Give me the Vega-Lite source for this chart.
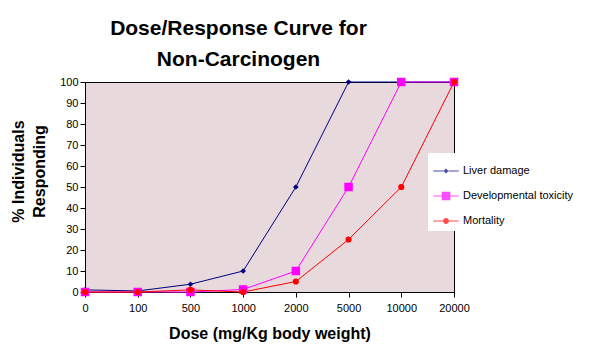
{
  "$schema": "https://vega.github.io/schema/vega-lite/v6.json",
  "width": 369,
  "height": 210,
  "autosize": {"type": "none"},
  "padding": {"left": 85, "top": 82, "right": 142, "bottom": 64},
  "background": "white",
  "config": {
    "view": {"fill": "#E8D9DD", "stroke": "black", "strokeWidth": 1},
    "font": "Liberation Sans"
  },
  "title": {
    "text": ["Dose/Response Curve for", "Non-Carcinogen"],
    "fontSize": 21,
    "fontWeight": "bold",
    "font": "Liberation Sans",
    "color": "black",
    "lineHeight": 31,
    "anchor": "middle",
    "frame": "group",
    "dx": -31,
    "offset": 6
  },
  "data": {
    "values": [
      {"series": "Liver damage", "dose": "0", "pct": 1},
      {"series": "Liver damage", "dose": "100", "pct": 0.5},
      {"series": "Liver damage", "dose": "500", "pct": 3.7},
      {"series": "Liver damage", "dose": "1000", "pct": 10},
      {"series": "Liver damage", "dose": "2000", "pct": 50},
      {"series": "Liver damage", "dose": "5000", "pct": 100},
      {"series": "Liver damage", "dose": "10000", "pct": 100},
      {"series": "Liver damage", "dose": "20000", "pct": 100},
      {"series": "Developmental toxicity", "dose": "0", "pct": 0},
      {"series": "Developmental toxicity", "dose": "100", "pct": 0},
      {"series": "Developmental toxicity", "dose": "500", "pct": 0},
      {"series": "Developmental toxicity", "dose": "1000", "pct": 1.2},
      {"series": "Developmental toxicity", "dose": "2000", "pct": 10},
      {"series": "Developmental toxicity", "dose": "5000", "pct": 50},
      {"series": "Developmental toxicity", "dose": "10000", "pct": 100},
      {"series": "Developmental toxicity", "dose": "20000", "pct": 100},
      {"series": "Mortality", "dose": "0", "pct": 0},
      {"series": "Mortality", "dose": "100", "pct": 0},
      {"series": "Mortality", "dose": "500", "pct": 1},
      {"series": "Mortality", "dose": "1000", "pct": 0},
      {"series": "Mortality", "dose": "2000", "pct": 5},
      {"series": "Mortality", "dose": "5000", "pct": 25},
      {"series": "Mortality", "dose": "10000", "pct": 50},
      {"series": "Mortality", "dose": "20000", "pct": 100}
    ]
  },
  "encoding": {
    "x": {
      "field": "dose",
      "type": "ordinal",
      "sort": ["0", "100", "500", "1000", "2000", "5000", "10000", "20000"],
      "scale": {"type": "point", "padding": 0},
      "axis": {
        "title": "Dose (mg/Kg body weight)",
        "titleFontSize": 16,
        "titleFontWeight": "bold",
        "titleFont": "Liberation Sans",
        "titleColor": "black",
        "titleY": 46,
        "titleBaseline": "alphabetic",
        "labelAngle": 0,
        "labelFontSize": 11,
        "labelFont": "Liberation Sans",
        "labelColor": "black",
        "labelPadding": 5,
        "tickSize": 5,
        "tickColor": "black",
        "domainColor": "black",
        "grid": false
      }
    },
    "y": {
      "field": "pct",
      "type": "quantitative",
      "scale": {"domain": [0, 100], "nice": false},
      "axis": {
        "title": ["% Individuals", "Responding"],
        "titleFontSize": 16,
        "titleFontWeight": "bold",
        "titleFont": "Liberation Sans",
        "titleColor": "black",
        "titleLineHeight": 21,
        "titleAngle": -90,
        "titleAlign": "center",
        "titleBaseline": "alphabetic",
        "titleX": -62,
        "titleY": 89,
        "values": [0, 10, 20, 30, 40, 50, 60, 70, 80, 90, 100],
        "labelFontSize": 11,
        "labelFont": "Liberation Sans",
        "labelColor": "black",
        "labelPadding": 2,
        "tickSize": 5,
        "tickColor": "black",
        "domainColor": "black",
        "grid": false
      }
    }
  },
  "layer": [
    {
      "transform": [{"filter": "datum.series === 'Liver damage'"}],
      "mark": {"type": "line", "strokeWidth": 1, "color": "#000080", "point": {"filled": true, "shape": "diamond", "size": 32, "color": "#000080", "opacity": 1}}
    },
    {
      "transform": [{"filter": "datum.series === 'Developmental toxicity'"}],
      "mark": {"type": "line", "strokeWidth": 1, "color": "#FF00FF", "point": {"filled": true, "shape": "square", "size": 72, "color": "#FF00FF", "opacity": 1}}
    },
    {
      "transform": [{"filter": "datum.series === 'Mortality'"}],
      "mark": {"type": "line", "strokeWidth": 1, "color": "#FF0000", "point": {"filled": true, "shape": "circle", "size": 38, "color": "#FF0000", "opacity": 1}}
    },
    {
      "transform": [{"filter": "datum.pct > 1000"}],
      "mark": {"type": "point", "filled": true, "size": 650},
      "encoding": {
        "color": {
          "field": "series",
          "type": "nominal",
          "scale": {"domain": ["Liver damage", "Developmental toxicity", "Mortality"], "range": ["#000080", "#FF00FF", "#FF0000"]},
          "legend": {
            "orient": "none",
            "legendX": 343,
            "legendY": 71,
            "title": null,
            "fillColor": "white",
            "padding": 5,
            "symbolSize": 650,
            "symbolStrokeWidth": 0,
            "labelFontSize": 11,
            "labelFont": "Liberation Sans",
            "labelColor": "black",
            "labelOffset": 4,
            "rowPadding": 7
          }
        },
        "shape": {
          "field": "series",
          "type": "nominal",
          "scale": {
            "domain": ["Liver damage", "Developmental toxicity", "Mortality"],
            "range": [
              "M-1,-0.04H-0.2V0.04H-1Z M0.2,-0.04H1V0.04H0.2Z M-0.2,0L0,-0.2L0.2,0L0,0.2Z",
              "M-1,-0.04H-0.34V0.04H-1Z M0.34,-0.04H1V0.04H0.34Z M-0.34,-0.34H0.34V0.34H-0.34Z",
              "M-1,-0.04H-0.23V0.04H-1Z M0.23,-0.04H1V0.04H0.23Z M-0.23,0A0.23,0.23 0 1,0 0.23,0A0.23,0.23 0 1,0 -0.23,0Z"
            ]
          },
          "legend": {
            "orient": "none",
            "legendX": 343,
            "legendY": 71,
            "title": null,
            "fillColor": "white",
            "padding": 5,
            "symbolSize": 650,
            "symbolStrokeWidth": 0,
            "labelFontSize": 11,
            "labelFont": "Liberation Sans",
            "labelColor": "black",
            "labelOffset": 4,
            "rowPadding": 7
          }
        }
      }
    }
  ]
}
